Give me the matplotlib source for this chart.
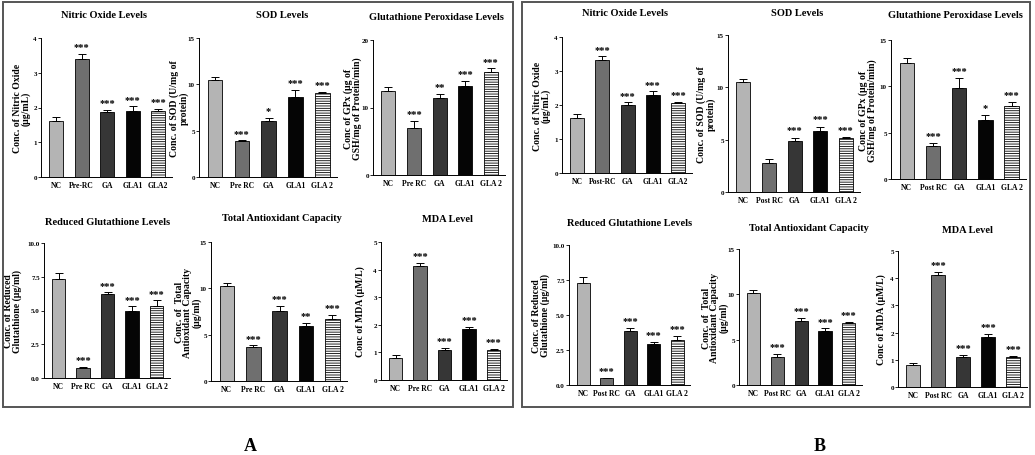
import matplotlib
matplotlib.use("Agg")
import matplotlib.pyplot as plt
from matplotlib.patches import Rectangle

plt.rcParams['font.family'] = ['Liberation Serif', 'DejaVu Serif']
plt.rcParams['font.weight'] = 'bold'
plt.rcParams['hatch.linewidth'] = 0.6

W, H = 1035, 456
fig = plt.figure(figsize=(W / 100, H / 100), dpi=100)

colors = ['#b4b4b4', '#6f6f6f', '#363636', '#050505', 'white']
hatches = [None, None, None, None, '-------']

# ---------- data ----------
groups_A1 = ['NC', 'Pre-RC', 'GA', 'GLA1', 'GLA2']
groups_A = ['NC', 'Pre RC', 'GA', 'GLA1', 'GLA 2']
groups_B1 = ['NC', 'Post-RC', 'GA', 'GLA1', 'GLA2']
groups_B = ['NC', 'Post RC', 'GA', 'GLA1', 'GLA 2']

titles = ['Nitric Oxide Levels', 'SOD Levels', 'Glutathione Peroxidase Levels',
          'Reduced Glutathione Levels', 'Total Antioxidant Capacity', 'MDA Level']
ylabels = ['Conc. of Nitric Oxide\n(µg/mL)',
           'Conc. of SOD (U/mg of\nprotein)',
           'Conc of GPx (µg of\nGSH/mg of Protein/min)',
           'Conc. of Reduced\nGlutathione (µg/ml)',
           'Conc. of  Total\nAntioxidant Capacity\n(µg/ml)',
           'Conc of MDA (µM/L)']

no_A = [1.62, 3.40, 1.86, 1.90, 1.89]
no_A_err = [0.10, 0.15, 0.08, 0.13, 0.08]
no_A_sig = ['', '***', '***', '***', '***']
sod_A = [10.5, 3.85, 6.0, 8.6, 9.05]
sod_A_err = [0.3, 0.1, 0.35, 0.8, 0.12]
sod_A_sig = ['', '***', '*', '***', '***']
gpx_A = [12.5, 6.9, 11.4, 13.2, 15.2]
gpx_A_err = [0.6, 1.1, 0.6, 0.8, 0.6]
gpx_A_sig = ['', '***', '**', '***', '***']
gsh_A = [7.3, 0.75, 6.2, 4.95, 5.3]
gsh_A_err = [0.45, 0.05, 0.15, 0.35, 0.45]
gsh_A_sig = ['', '***', '***', '***', '***']
tac_A = [10.3, 3.7, 7.6, 5.95, 6.65]
tac_A_err = [0.3, 0.15, 0.5, 0.35, 0.45]
tac_A_sig = ['', '***', '***', '**', '***']
mda_A = [0.80, 4.12, 1.10, 1.85, 1.10]
mda_A_err = [0.10, 0.12, 0.06, 0.08, 0.03]
mda_A_sig = ['', '***', '***', '***', '***']

no_B = [1.63, 3.33, 2.00, 2.30, 2.06]
no_B_err = [0.10, 0.10, 0.08, 0.10, 0.04]
no_B_sig = ['', '***', '***', '***', '***']
sod_B = [10.5, 2.8, 4.9, 5.85, 5.2]
sod_B_err = [0.3, 0.4, 0.3, 0.4, 0.05]
sod_B_sig = ['', '', '***', '***', '***']
gpx_B = [12.5, 3.6, 9.8, 6.4, 7.9]
gpx_B_err = [0.6, 0.3, 1.1, 0.5, 0.4]
gpx_B_sig = ['', '***', '***', '*', '***']
gsh_B = [7.3, 0.5, 3.85, 2.9, 3.2]
gsh_B_err = [0.45, 0.03, 0.25, 0.15, 0.33]
gsh_B_sig = ['', '***', '***', '***', '***']
tac_B = [10.2, 3.1, 7.05, 5.95, 6.85]
tac_B_err = [0.3, 0.35, 0.35, 0.3, 0.1]
tac_B_sig = ['', '***', '***', '***', '***']
mda_B = [0.80, 4.10, 1.12, 1.83, 1.12]
mda_B_err = [0.10, 0.12, 0.05, 0.12, 0.03]
mda_B_sig = ['', '***', '***', '***', '***']

ylims = [4, 15, 20, 10, 15, 5]
yticks = [[0, 1, 2, 3, 4], [0, 5, 10, 15], [0, 10, 20],
          [0, 2.5, 5, 7.5, 10], [0, 5, 10, 15], [0, 1, 2, 3, 4, 5]]
yticks_B = [[0, 1, 2, 3, 4], [0, 5, 10, 15], [0, 5, 10, 15],
            [0, 2.5, 5, 7.5, 10], [0, 5, 10, 15], [0, 1, 2, 3, 4, 5]]


def draw(box, labels, vals, errs, sig, ymax, ticks, ylabel, ylab_x, title, tpos,
         decimals=False):
    x0, x1, ytop, ybot = box
    ax = fig.add_axes([x0 / W, 1 - ybot / H, (x1 - x0) / W, (ybot - ytop) / H])
    xs = list(range(len(vals)))
    for i in xs:
        ax.bar(i, vals[i], width=0.55, color=colors[i], edgecolor='black',
               linewidth=0.6, hatch=hatches[i])
    ax.errorbar(xs, vals, yerr=[[0] * len(errs), errs], fmt='none',
                ecolor='black', elinewidth=0.7, capsize=3, capthick=0.7)
    for i in xs:
        if sig[i]:
            ax.text(i, vals[i] + errs[i] + ymax * 0.02, sig[i], ha='center',
                    va='bottom', fontsize=7.5, fontweight='bold')
    ax.set_xlim(-0.6, 4.55)
    ax.set_ylim(0, ymax)
    ax.set_yticks(ticks)
    if decimals:
        ax.set_yticklabels(['%.1f' % t for t in ticks])
    else:
        ax.set_yticklabels(['%g' % t for t in ticks])
    ax.set_xticks(xs)
    ax.set_xticklabels(labels)
    ax.tick_params(axis='y', labelsize=5, length=2, width=0.6, pad=1)
    ax.tick_params(axis='x', labelsize=5.5, length=0, pad=3)
    for s in ['top', 'right']:
        ax.spines[s].set_visible(False)
    for s in ['left', 'bottom']:
        ax.spines[s].set_linewidth(0.7)
    ax.set_ylabel(ylabel, fontsize=7, fontweight='bold', linespacing=0.95,
                  va='center', ha='center')
    ax.yaxis.set_label_coords((ylab_x - x0) / (x1 - x0), 0.5)
    fig.text(tpos[0] / W, 1 - tpos[1] / H, title, ha='center', va='center',
             fontsize=7.5, fontweight='bold')
    return ax


# panel frames
fig.add_artist(Rectangle((3 / W, 1 - 408 / H), 510 / W, 405 / H, transform=fig.transFigure,
                         fill=False, edgecolor='#555555', linewidth=1.4))
fig.add_artist(Rectangle((522 / W, 1 - 408 / H), 508 / W, 405 / H, transform=fig.transFigure,
                         fill=False, edgecolor='#555555', linewidth=1.4))

# Panel A
draw((41, 172, 39, 178), groups_A1, no_A, no_A_err, no_A_sig, ylims[0], yticks[0],
     ylabels[0], 22, titles[0], (104, 15))
draw((199, 337, 39, 178), groups_A, sod_A, sod_A_err, sod_A_sig, ylims[1], yticks[1],
     ylabels[1], 179, titles[1], (282, 15))
draw((373, 505, 41, 176), groups_A, gpx_A, gpx_A_err, gpx_A_sig, ylims[2], yticks[2],
     ylabels[2], 353, titles[2], (436, 17))
draw((44, 170, 244, 379), groups_A, gsh_A, gsh_A_err, gsh_A_sig, ylims[3], yticks[3],
     ylabels[3], 13, titles[3], (108, 223), decimals=True)
draw((211, 347, 243, 382), groups_A, tac_A, tac_A_err, tac_A_sig, ylims[4], yticks[4],
     ylabels[4], 188, titles[4], (282, 219))
draw((381, 507, 243, 381), groups_A, mda_A, mda_A_err, mda_A_sig, ylims[5], yticks[5],
     ylabels[5], 360, titles[5], (447, 220))

# Panel B
draw((562, 692, 38, 174), groups_B1, no_B, no_B_err, no_B_sig, ylims[0], yticks_B[0],
     ylabels[0], 542, titles[0], (625, 14))
draw((728, 860, 36, 193), groups_B, sod_B, sod_B_err, sod_B_sig, ylims[1], yticks_B[1],
     ylabels[1], 706, titles[1], (797, 14))
draw((891, 1026, 41, 180), groups_B, gpx_B, gpx_B_err, gpx_B_sig, 15, yticks_B[2],
     ylabels[2], 868, titles[2], (955, 15))
draw((569, 690, 246, 386), groups_B, gsh_B, gsh_B_err, gsh_B_sig, ylims[3], yticks_B[3],
     ylabels[3], 541, titles[3], (630, 224), decimals=True)
draw((739, 862, 250, 386), groups_B, tac_B, tac_B_err, tac_B_sig, ylims[4], yticks_B[4],
     ylabels[4], 715, titles[4], (809, 229))
draw((898, 1027, 252, 388), groups_B, mda_B, mda_B_err, mda_B_sig, ylims[5], yticks_B[5],
     ylabels[5], 881, titles[5], (967, 231))

fig.text(250 / W, 1 - 447 / H, 'A', ha='center', va='center', fontsize=13, fontweight='bold')
fig.text(820 / W, 1 - 447 / H, 'B', ha='center', va='center', fontsize=13, fontweight='bold')

fig.savefig('out.png', dpi=100)
